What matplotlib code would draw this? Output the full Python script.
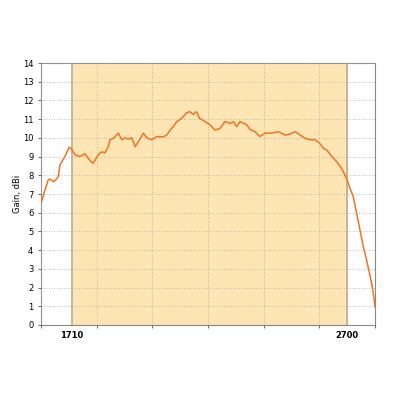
import matplotlib.pyplot as plt

# frequency (MHz) and gain (dBi)
freq = [1602, 1614, 1626, 1632, 1644, 1656, 1662, 1668, 1674, 1686, 1692, 1701,
        1707, 1714, 1722, 1740, 1752, 1758, 1770, 1786, 1794, 1806, 1818, 1830,
        1842, 1848, 1860, 1878, 1890, 1902, 1914, 1926, 1938, 1950, 1968, 1980,
        1998, 2016, 2039, 2052, 2063, 2075, 2088, 2106, 2124, 2135, 2147, 2159,
        2169, 2189, 2207, 2225, 2243, 2261, 2279, 2291, 2303, 2315, 2339, 2351,
        2369, 2387, 2405, 2429, 2453, 2477, 2495, 2513, 2531, 2549, 2567, 2585,
        2602, 2614, 2627, 2645, 2662, 2680, 2698, 2710, 2722, 2734, 2746, 2758,
        2770, 2779, 2788, 2794, 2800]
gain = [6.6, 7.2, 7.75, 7.8, 7.66, 7.8, 7.93, 8.55, 8.7, 9.0, 9.2, 9.5,
        9.45, 9.3, 9.1, 9.0, 9.1, 9.15, 8.9, 8.64, 8.8, 9.1, 9.25, 9.2,
        9.53, 9.9, 9.97, 10.25, 9.9, 10.0, 9.93, 10.0, 9.53, 9.8, 10.25, 10.0,
        9.9, 10.07, 10.05, 10.15, 10.4, 10.6, 10.87, 11.05, 11.35, 11.4, 11.25, 11.4,
        11.05, 10.87, 10.7, 10.42, 10.5, 10.87, 10.78, 10.87, 10.6, 10.87, 10.7, 10.45,
        10.33, 10.07, 10.25, 10.25, 10.33, 10.15, 10.2, 10.33, 10.15, 9.97, 9.9, 9.9,
        9.7, 9.44, 9.35, 9.0, 8.73, 8.37, 7.84, 7.3, 6.86, 5.97, 5.08, 4.18,
        3.47, 2.85, 2.23, 1.69, 0.98]

band = [1710, 2700]

fig = plt.figure(figsize=(3.96, 3.96), dpi=100)
ax = fig.add_axes([41 / 396, 71 / 396, 334 / 396, 262 / 396])

ax.axvspan(band[0], band[1], color="#fde6b3", zorder=0)
for b in band:
    ax.axvline(b, color="#b8ad94", linewidth=1.2, zorder=1)

ax.plot(freq, gain, color="#f07422", linewidth=1.1, zorder=3)

ax.set_xlim(1600, 2800)
ax.set_ylim(0, 14)
ax.set_yticks(range(0, 15))
ax.set_xticks(range(1600, 2801, 200))
ax.set_xticklabels([])
ax.set_xticks(band, minor=True)
ax.set_xticklabels([str(b) for b in band], minor=True, fontsize=6, fontweight="bold")
ax.tick_params(axis="x", which="minor", length=0, pad=4)
ax.tick_params(axis="both", which="major", length=2, labelsize=6, width=0.6, color="#555555")
ax.grid(True, which="major", linestyle=(0, (1, 2)), color="#aaaaaa", linewidth=0.6)
ax.set_axisbelow(False)
for s in ax.spines.values():
    s.set_color("#888888")
    s.set_linewidth(0.8)

ax.set_ylabel("Gain, dBi", fontsize=6)
ax.yaxis.set_label_coords(-0.057, 0.5)

plt.savefig("out.png", dpi=100)
